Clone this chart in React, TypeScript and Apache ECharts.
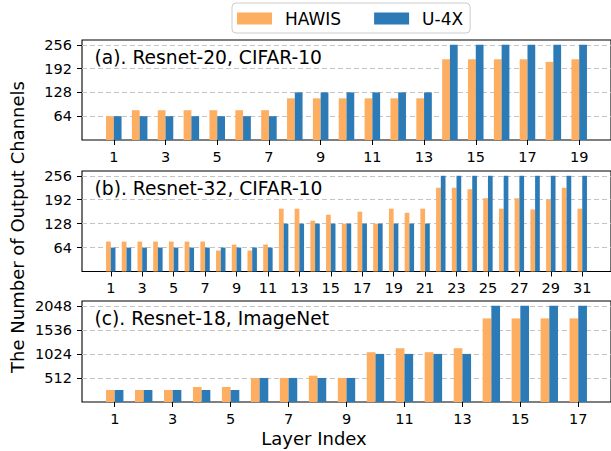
import React, { useEffect, useRef } from 'react';
import * as echarts from 'echarts';

// ---- Data ----
const layersA = [1, 2, 3, 4, 5, 6, 7, 8, 9, 10, 11, 12, 13, 14, 15, 16, 17, 18, 19];
const hawisA = [64, 80, 80, 80, 80, 80, 80, 112, 112, 112, 112, 112, 112, 217, 217, 217, 217, 210, 217];
const u4xA = [64, 64, 64, 64, 64, 64, 64, 128, 128, 128, 128, 128, 128, 256, 256, 256, 256, 256, 256];
const xTicksA = [1, 3, 5, 7, 9, 11, 13, 15, 17, 19];

const layersB = [1, 2, 3, 4, 5, 6, 7, 8, 9, 10, 11, 12, 13, 14, 15, 16, 17, 18, 19, 20, 21, 22, 23, 24, 25, 26, 27, 28, 29, 30, 31];
const hawisB = [80, 80, 80, 80, 80, 80, 80, 56, 72, 56, 72, 168, 168, 136, 152, 128, 160, 128, 168, 157, 168, 224, 224, 220, 196, 168, 196, 166, 192, 224, 168];
const u4xB = [64, 64, 64, 64, 64, 64, 64, 64, 64, 64, 64, 128, 128, 128, 128, 128, 128, 128, 128, 128, 128, 256, 256, 256, 256, 256, 256, 256, 256, 256, 256];
const xTicksB = [1, 3, 5, 7, 9, 11, 13, 15, 17, 19, 21, 23, 25, 27, 29, 31];

const layersC = [1, 2, 3, 4, 5, 6, 7, 8, 9, 10, 11, 12, 13, 14, 15, 16, 17];
const hawisC = [256, 256, 256, 320, 320, 512, 512, 560, 512, 1060, 1145, 1060, 1145, 1780, 1780, 1780, 1780];
const u4xC = [256, 256, 256, 256, 256, 512, 512, 512, 512, 1024, 1024, 1024, 1024, 2048, 2048, 2048, 2048];
const xTicksC = [1, 3, 5, 7, 9, 11, 13, 15, 17];

const yTicksAB = [64, 128, 192, 256];
const yTicksC = [512, 1024, 1536, 2048];

const titles = ['(a). Resnet-20, CIFAR-10', '(b). Resnet-32, CIFAR-10', '(c). Resnet-18, ImageNet'];
const seriesNames = ['HAWIS', 'U-4X'];

const ORANGE = '#fdae61';
const BLUE = '#2c7bb6';
const FONT = 'DejaVu Sans';

export default function App() {
  const ref = useRef<HTMLDivElement>(null);

  useEffect(() => {
    const chart = echarts.init(ref.current!, null, { renderer: 'svg' });

    const panels = [
      { top: 40, height: 100, layers: layersA, hawis: hawisA, u4x: u4xA, xMin: -0.23, xMax: 20.23, xTicks: xTicksA, yMax: 268.8, yInterval: 64, yTicks: yTicksAB },
      { top: 171, height: 100.5, layers: layersB, hawis: hawisB, u4x: u4xB, xMin: -0.83, xMax: 32.83, xTicks: xTicksB, yMax: 268.8, yInterval: 64, yTicks: yTicksAB },
      { top: 301, height: 101, layers: layersC, hawis: hawisC, u4x: u4xC, xMin: -0.13, xMax: 18.13, xTicks: xTicksC, yMax: 2150.4, yInterval: 512, yTicks: yTicksC },
    ];

    const labelStyle = { fontSize: 14.5, color: '#000', fontFamily: FONT, formatter: (v: number) => String(v) };

    const option: any = {
      animation: false,
      backgroundColor: '#fff',
      textStyle: { fontFamily: FONT },
      legend: {
        data: seriesNames,
        left: 232,
        top: 3,
        icon: 'rect',
        itemWidth: 35,
        itemHeight: 12,
        itemGap: 33,
        padding: [7, 7, 6, 5],
        borderColor: '#cccccc',
        borderWidth: 1,
        borderRadius: 4,
        backgroundColor: '#ffffff',
        textStyle: { fontSize: 17, fontFamily: FONT, color: '#000', padding: [0, 0, 0, 8] },
      },
      grid: panels.map((p) => ({
        left: 82,
        top: p.top,
        width: 531,
        height: p.height,
        show: true,
        borderColor: '#000',
        borderWidth: 1.1,
        backgroundColor: 'transparent',
      })),
      xAxis: panels.map((p, i) => ({
        type: 'value',
        gridIndex: i,
        min: p.xMin,
        max: p.xMax,
        axisLine: { show: false, onZero: false },
        splitLine: { show: false },
        axisTick: { show: true, customValues: p.xTicks, length: 5, lineStyle: { color: '#000', width: 1 } },
        axisLabel: { customValues: p.xTicks, margin: 9, ...labelStyle },
      })),
      yAxis: panels.map((p, i) => ({
        type: 'value',
        gridIndex: i,
        min: 0,
        max: p.yMax,
        interval: p.yInterval,
        axisLine: { show: false, onZero: false },
        axisTick: { show: true, customValues: p.yTicks, length: 5, lineStyle: { color: '#000', width: 1 } },
        axisLabel: { customValues: p.yTicks, margin: 10, ...labelStyle },
        splitLine: { show: true, lineStyle: { color: '#c4c4c4', width: 1, type: [5, 3] } },
      })),
      series: panels.flatMap((p, i) => [
        {
          type: 'bar',
          name: seriesNames[0],
          xAxisIndex: i,
          yAxisIndex: i,
          data: p.layers.map((l, j) => [l, p.hawis[j]]),
          barWidth: '30%',
          barGap: '0%',
          itemStyle: { color: ORANGE },
        },
        {
          type: 'bar',
          name: seriesNames[1],
          xAxisIndex: i,
          yAxisIndex: i,
          data: p.layers.map((l, j) => [l, p.u4x[j]]),
          barWidth: '30%',
          barGap: '0%',
          itemStyle: { color: BLUE },
        },
      ]),
      graphic: [
        ...panels.map((p, i) => ({
          type: 'text',
          x: 94.5,
          y: p.top + 17,
          z: 100,
          style: { text: titles[i], fontSize: 18.7, fontFamily: FONT, fill: '#000', textAlign: 'left', textVerticalAlign: 'middle', verticalAlign: 'middle' },
        })),
        {
          type: 'text',
          x: 17,
          y: 227,
          rotation: Math.PI / 2,
          style: { text: 'The Number of Output Channels', fontSize: 18, fontFamily: FONT, fill: '#000', textAlign: 'center', textVerticalAlign: 'middle', verticalAlign: 'middle' },
        },
        {
          type: 'text',
          x: 314,
          y: 438,
          style: { text: 'Layer Index', fontSize: 18, fontFamily: FONT, fill: '#000', textAlign: 'center', textVerticalAlign: 'middle', verticalAlign: 'middle' },
        },
      ],
    };

    chart.setOption(option);
    return () => chart.dispose();
  }, []);

  return <div ref={ref} style={{ position: 'absolute', left: 0, top: 0, width: 611, height: 451 }} />;
}
